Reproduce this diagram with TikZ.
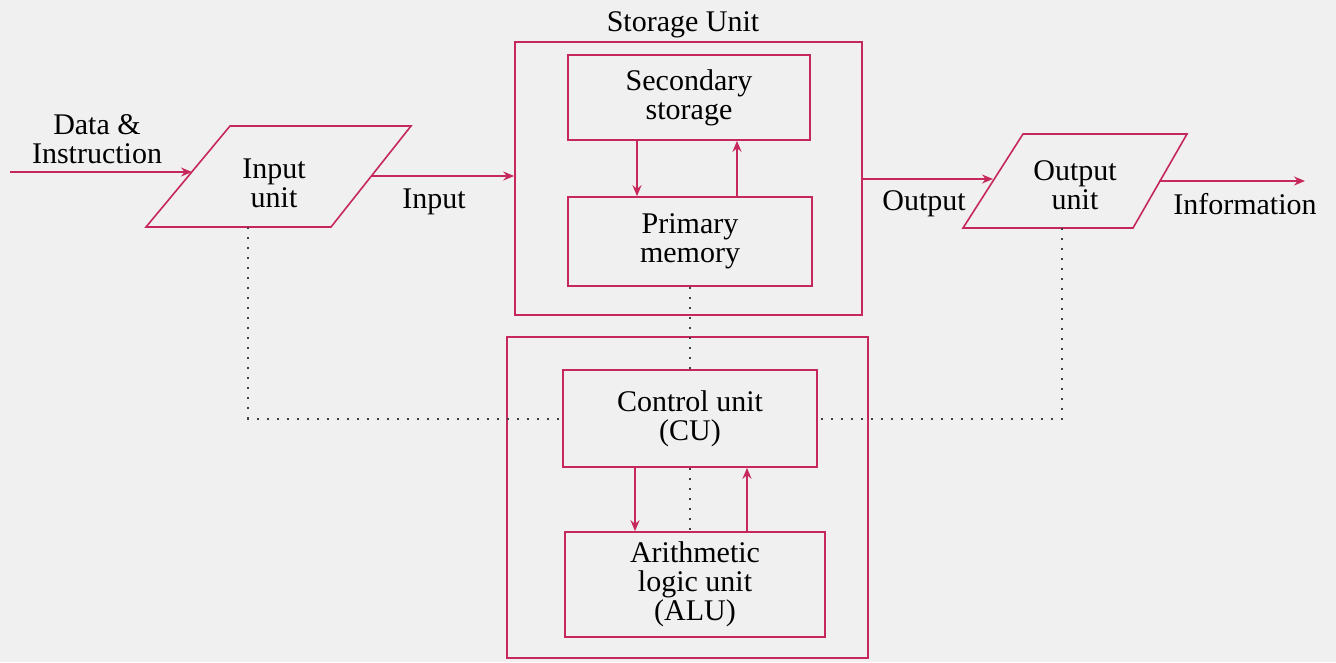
\documentclass[tikz,border=0pt]{standalone}
\usepackage{fontspec}
\setmainfont{Liberation Serif}
\usetikzlibrary{arrows.meta,calc}
\definecolor{lnc}{RGB}{198,40,92}
\definecolor{bgc}{RGB}{240,240,240}
\begin{document}
\begin{tikzpicture}[x=1pt,y=-1pt,
  every node/.style={font=\fontsize{30}{29}\selectfont, inner sep=0pt},
  box/.style={draw=lnc, line width=1.6pt, align=center, anchor=center},
  lbl/.style={text=black, align=center},
  arr/.style={draw=lnc, line width=1.6pt, -{Stealth[length=11pt,width=9pt]}},
  dots/.style={draw=black!75, line width=2pt, dash pattern=on 2pt off 8pt},
  para/.style={draw=lnc, line width=1.6pt}]
\fill[bgc] (0,0) rectangle (1336,662);
\useasboundingbox (0,0) rectangle (1336,662);

% storage unit
\node[box, minimum width=347pt, minimum height=273pt] (stor) at (688.5,178.5) {};
\node[lbl] (storl) at (683,25) {Storage Unit};
\node[box, minimum width=242pt, minimum height=85pt] (sec) at (689,97.5) {Secondary\\storage};
\node[box, minimum width=244pt, minimum height=89pt] (prim) at (690,241.5) {Primary\\memory};
\coordinate (dx1) at (637,0);
\coordinate (ux1) at (737,0);
\draw[arr] (sec.south -| dx1) -- (prim.north -| dx1);
\draw[arr] (prim.north -| ux1) -- (sec.south -| ux1);

% control / ALU block
\node[box, minimum width=361pt, minimum height=321pt] (ctrl) at (687.5,497.5) {};
\node[box, minimum width=254pt, minimum height=97pt] (cu) at (690,418.5) {Control unit\\(CU)};
\node[box, minimum width=260pt, minimum height=105pt] (alu) at (695,584.5) {Arithmetic\\logic unit\\(ALU)};
\coordinate (dx2) at (635,0);
\coordinate (ux2) at (747,0);
\draw[arr] (cu.south -| dx2) -- (alu.north -| dx2);
\draw[arr] (alu.north -| ux2) -- (cu.south -| ux2);
\draw[dots] (prim.south) -- (cu.north);
\draw[dots] (cu.south) -- (alu.north -| cu.south);

% input unit
\coordinate (iTL) at (230,126);
\coordinate (iTR) at (411,126);
\coordinate (iBR) at (331,227);
\coordinate (iBL) at (146,227);
\draw[para] (iTL) -- (iTR) -- (iBR) -- (iBL) -- cycle;
\node[lbl] (inu) at (274,183) {Input\\unit};
\coordinate (iL) at (192,172);
\coordinate (iR) at (371,176);
\coordinate (din) at (10,172);
\draw[arr] (din) -- (iL);
\node[lbl] (dil) at (97,139) {Data \&\\Instruction};
\draw[arr] (iR) -- (iR -| stor.west);
\node[lbl] (inl) at (434,202) {Input};

% output unit
\coordinate (oTL) at (1023,134);
\coordinate (oTR) at (1187,134);
\coordinate (oBR) at (1133,228);
\coordinate (oBL) at (963,228);
\draw[para] (oTL) -- (oTR) -- (oBR) -- (oBL) -- cycle;
\node[lbl] (outu) at (1075,185) {Output\\unit};
\coordinate (oL) at (993,179);
\coordinate (oR) at (1159,181);
\coordinate (oend) at (1305,181);
\draw[arr] (oL -| stor.east) -- (oL);
\draw[arr] (oR) -- (oend);
\node[lbl] (outl) at (924,204) {Output};
\node[lbl] (infl) at (1245,204) {Information};

% dotted control lines
\coordinate (ib) at (248,227);
\coordinate (ob) at (1062,228);
\draw[dots] (ib) |- (cu.west);
\draw[dots] (ob) |- (cu.east);
\end{tikzpicture}
\end{document}
